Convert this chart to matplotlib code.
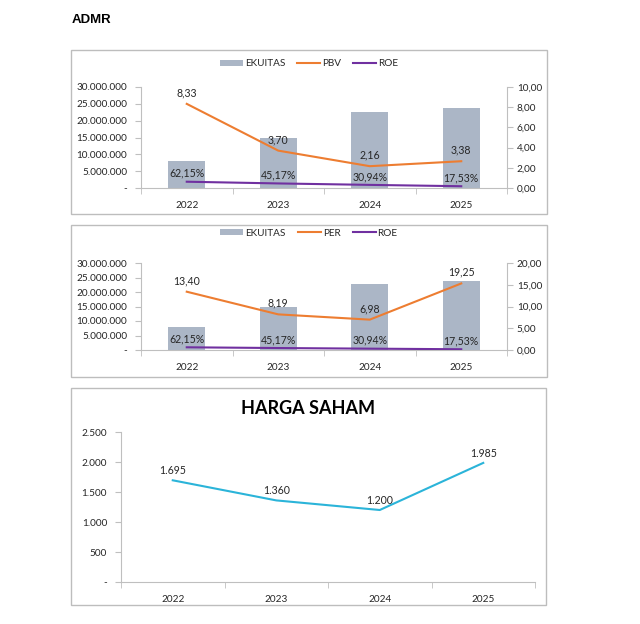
import matplotlib
matplotlib.use('Agg')
import matplotlib.pyplot as plt
from matplotlib.patches import Rectangle, Patch
from matplotlib.lines import Line2D
from matplotlib.ticker import FixedLocator, FuncFormatter, MultipleLocator

plt.rcParams['font.family'] = ['Lato', 'DejaVu Sans']

# data
tahun = ['2022', '2023', '2024', '2025']
ekuitas = [8.1e6, 14.9e6, 22.7e6, 23.8e6]
pbv = [8.33, 3.70, 2.16, 2.65]          # posisi garis di grafik
pbv_label = ['8,33', '3,70', '2,16', '3,38']
per = [13.40, 8.19, 6.98, 15.3]
per_label = ['13,40', '8,19', '6,98', '19,25']
roe = [0.6215, 0.4517, 0.3094, 0.1753]
roe_label = ['62,15%', '45,17%', '30,94%', '17,53%']
harga = [1695, 1360, 1200, 1985]
harga_label = ['1.695', '1.360', '1.200', '1.985']

W, H = 640, 624
C_BAR = '#ABB6C6'
C_ORANGE = '#ED7D31'
C_PURPLE = '#7030A0'
C_BLUE = '#2BB4D9'
C_AXIS = '#BFBFBF'
C_TEXT = '#262626'
FS = 7.2
FS_LBL = 7.6


def box(l, t, r, b):
    return [l / W, 1 - b / H, (r - l) / W, (b - t) / H]


def fmt_ribu(v, pos=None):
    if abs(v) < 1e-9:
        return '-'
    return '{:,.0f}'.format(v).replace(',', '.')


def fmt_dec(v, pos=None):
    return '{:.2f}'.format(v).replace('.', ',')


def style_x(ax):
    ax.set_xlim(-0.5, 3.5)
    ax.set_xticks(range(4))
    ax.set_xticklabels(tahun)
    ax.xaxis.set_minor_locator(FixedLocator([-0.5, 0.5, 1.5, 2.5, 3.5]))
    ax.tick_params(axis='x', which='major', length=0, pad=9, labelsize=FS, colors=C_TEXT)
    ax.tick_params(axis='x', which='minor', length=4, color=C_AXIS, direction='out')
    for s in ['top', 'right']:
        ax.spines[s].set_visible(False)
    ax.spines['bottom'].set_color(C_AXIS)
    ax.spines['left'].set_color(C_AXIS)
    ax.tick_params(axis='y', length=4, color=C_AXIS, labelsize=FS, labelcolor=C_TEXT, pad=6)


def combo(rect, ratio, ratio_label, nama, rmax, rstep, leg_y):
    ax = fig.add_axes(box(*rect))
    ax.bar(range(4), ekuitas, width=0.4, color=C_BAR, zorder=1)
    ax.set_ylim(0, 30e6)
    ax.yaxis.set_major_locator(MultipleLocator(5e6))
    ax.yaxis.set_major_formatter(FuncFormatter(fmt_ribu))
    style_x(ax)

    ax2 = ax.twinx()
    ax2.plot(range(4), ratio, color=C_ORANGE, lw=1.5, zorder=3)
    ax2.plot(range(4), roe, color=C_PURPLE, lw=1.5, zorder=3)
    ax2.set_ylim(0, rmax)
    ax2.yaxis.set_major_locator(MultipleLocator(rstep))
    ax2.yaxis.set_major_formatter(FuncFormatter(fmt_dec))
    for s in ['top', 'left', 'bottom']:
        ax2.spines[s].set_visible(False)
    ax2.spines['right'].set_color(C_AXIS)
    ax2.tick_params(axis='y', length=4, color=C_AXIS, labelsize=FS, labelcolor=C_TEXT, pad=3)

    for i in range(4):
        ax2.annotate(ratio_label[i], (i, ratio[i]), xytext=(0, 8), textcoords='offset points',
                     ha='center', va='center', fontsize=FS_LBL, color=C_TEXT)
        ax2.annotate(roe_label[i], (i, roe[i]), xytext=(0, 6), textcoords='offset points',
                     ha='center', va='center', fontsize=FS_LBL, color=C_TEXT)

    handles = [Patch(facecolor=C_BAR, edgecolor='none'),
               Line2D([], [], color=C_ORANGE, lw=1.5),
               Line2D([], [], color=C_PURPLE, lw=1.5)]
    fig.legend(handles, ['EKUITAS', nama, 'ROE'], loc='center', ncol=3, frameon=False,
               bbox_to_anchor=(309 / W, 1 - leg_y / H), fontsize=FS, handlelength=2.3,
               handleheight=0.6, handletextpad=0.2, columnspacing=1.2,
               labelcolor=C_TEXT)


fig = plt.figure(figsize=(W / 100, H / 100), dpi=100)
fig.patch.set_facecolor('white')

# bingkai panel
for l, t, r, b in [(71, 50, 547, 214), (71, 225, 547, 377), (71, 388, 546, 605)]:
    fig.patches.append(Rectangle((l / W, 1 - b / H), (r - l) / W, (b - t) / H,
                                 transform=fig.transFigure, fill=False,
                                 edgecolor='#BDBDBD', lw=1))

fig.text(72 / W, 1 - 20 / H, 'ADMR', fontsize=9.5, fontweight='bold',
         family=['Liberation Sans', 'DejaVu Sans'], va='center', ha='left', color='black')

combo((141, 87, 507, 188), pbv, pbv_label, 'PBV', 10, 2, 64)
combo((141, 263, 507, 350), per, per_label, 'PER', 20, 5, 233)

# harga saham
ax3 = fig.add_axes(box(121, 432, 535, 582))
ax3.plot(range(4), harga, color=C_BLUE, lw=1.5)
ax3.set_ylim(0, 2500)
ax3.yaxis.set_major_locator(MultipleLocator(500))
ax3.yaxis.set_major_formatter(FuncFormatter(fmt_ribu))
style_x(ax3)
for i in range(4):
    ax3.annotate(harga_label[i], (i, harga[i]), xytext=(0, 7), textcoords='offset points',
                 ha='center', va='center', fontsize=FS_LBL, color=C_TEXT)
fig.text(308 / W, 1 - 409 / H, 'HARGA SAHAM', fontsize=13, fontweight='bold',
         ha='center', va='center', color='black')

fig.savefig('out.png', dpi=100, facecolor='white')
